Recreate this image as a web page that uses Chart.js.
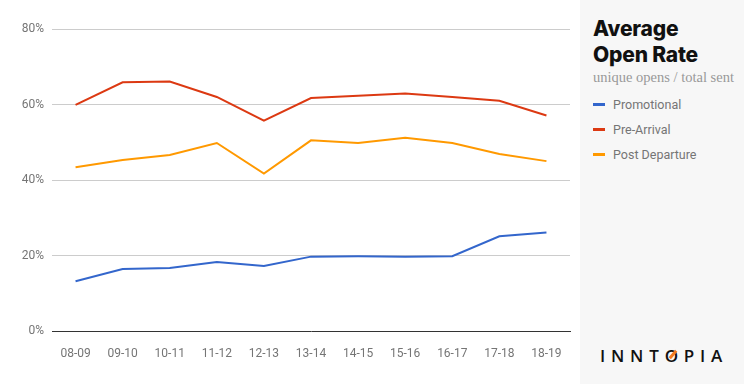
<!DOCTYPE html>
<html>
<head>
<meta charset="utf-8">
<script src="https://cdn.jsdelivr.net/npm/chart.js@4"></script>
<style>
  html, body { margin:0; padding:0; width:744px; height:384px; overflow:hidden; background:#fff; }
  #wrap { position:absolute; left:0; top:0; width:580px; height:384px; }
  #panel { position:absolute; left:580px; top:0; width:164px; height:384px; background:#f7f7f7; }
  #title { position:absolute; left:13px; top:16px; font-family:Inter, "Liberation Sans", sans-serif; font-weight:800; font-size:21px; line-height:26px; color:#111; letter-spacing:-0.2px; }
  #sub { position:absolute; left:13px; top:69px; font-family:"Liberation Serif", "DejaVu Serif", serif; font-size:14.5px; color:#999; white-space:nowrap; }
  .item { position:absolute; left:13px; font-family:Roboto, sans-serif; font-size:12.5px; color:#757575; white-space:nowrap; }
  .sw { display:inline-block; width:12px; height:3px; vertical-align:middle; margin-right:8px; position:relative; top:-1px; }
  #logo { position:absolute; left:20px; top:344px; font-family:"Open Sans", Lato, sans-serif; font-weight:600; font-size:17px; letter-spacing:5.8px; color:#111; white-space:nowrap; }
  #logo .o { color:#111; position:relative; }
  #logo .o::after { content:""; position:absolute; left:3px; top:9px; width:10px; height:3px; background:#f47b20; transform:rotate(-50deg); }
</style>
</head>
<body>
<div id="wrap"><canvas id="c" width="580" height="384"></canvas></div>
<div id="panel">
  <div id="title">Average<br>Open Rate</div>
  <div id="sub">unique opens / total sent</div>
  <div class="item" style="top:97px"><span class="sw" style="background:#3366cc"></span>Promotional</div>
  <div class="item" style="top:122px"><span class="sw" style="background:#dc3912"></span>Pre-Arrival</div>
  <div class="item" style="top:147px"><span class="sw" style="background:#ff9900"></span>Post Departure</div>
  <div id="logo">INNT<span class="o">O</span>PIA</div>
</div>
<script>
const categories = ["08-09","09-10","10-11","11-12","12-13","13-14","14-15","15-16","16-17","17-18","18-19"];
const promotional = [13.2, 16.4, 16.7, 18.3, 17.2, 19.7, 19.8, 19.7, 19.8, 25.1, 26.1];
const preArrival = [59.9, 65.9, 66.1, 62.0, 55.7, 61.7, 62.3, 62.9, 62.0, 61.0, 57.1];
const postDeparture = [43.4, 45.3, 46.6, 49.8, 41.7, 50.5, 49.8, 51.2, 49.8, 46.9, 45.0];
const yTicks = [0, 20, 40, 60, 80];

new Chart(document.getElementById('c'), {
  type: 'line',
  data: {
    labels: categories,
    datasets: [
      { label: 'Promotional', data: promotional, borderColor: '#3366cc' },
      { label: 'Pre-Arrival', data: preArrival, borderColor: '#dc3912' },
      { label: 'Post Departure', data: postDeparture, borderColor: '#ff9900' }
    ].map(d => Object.assign(d, { borderWidth: 2, pointRadius: 0, tension: 0, fill: false }))
  },
  options: {
    responsive: false,
    animation: false,
    layout: { padding: { top: 29, right: 10, left: 0, bottom: 0 } },
    plugins: { legend: { display: false }, tooltip: { enabled: false } },
    scales: {
      x: {
        offset: true,
        grid: { display: false },
        border: { color: '#333', width: 1 },
        ticks: { color: '#757575', font: { family: 'Roboto', size: 12 }, padding: 8, maxRotation: 0 },
        afterFit: s => { s.height = 53; }
      },
      y: {
        min: 0, max: 80,
        afterBuildTicks: s => { s.ticks = yTicks.map(v => ({ value: v })); },
        grid: { color: ctx => ctx.tick && ctx.tick.value === 0 ? 'rgba(0,0,0,0)' : '#cccccc', drawTicks: false },
        border: { display: false },
        ticks: { color: '#757575', font: { family: 'Roboto', size: 12 }, padding: 8, callback: v => v + '%' },
        afterFit: s => { s.width = 52; }
      }
    }
  }
});
</script>
</body>
</html>
